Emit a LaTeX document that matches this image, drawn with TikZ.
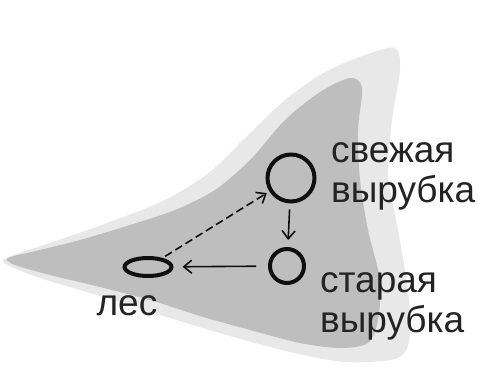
\documentclass[tikz,border=0pt]{standalone}
\usepackage{fontspec}
\setmainfont{Liberation Sans}
\usetikzlibrary{arrows.meta,positioning,shapes.geometric}
\definecolor{cutgray}   {RGB}{190,190,190}
\definecolor{fringegray}{RGB}{232,232,232}
\definecolor{inkblack}  {RGB}{ 15, 15, 15}
\definecolor{textgray}  {RGB}{ 35, 35, 35}

\begin{document}
\begin{tikzpicture}[
    x=1pt, y=-1pt,
    state/.style={draw=inkblack, circle, line width=4pt, inner sep=0pt},
    forestshape/.style={draw=inkblack, ellipse, line width=4pt, inner sep=0pt, minimum width=47pt, minimum height=18pt},
    caption/.style={text=textgray, align=left, inner sep=0pt, font=\fontsize{37}{40}\selectfont},
    arrow/.style={-{Straight Barb[length=8pt,width=13pt]}, line width=1.6pt, draw=inkblack}
]
    \useasboundingbox (0,0) rectangle (478,380);

    % Gray region behind the states (fringe, then solid part)
    \fill[fringegray] plot[smooth cycle, tension=0.5] coordinates {(6,258) (50,243) (110,222) (165,200) (210,172) (245,138) (285,100) (325,72) (365,55) (395,48) (400,70) (392,120) (388,175) (398,230) (408,290) (410,335) (398,358) (345,362) (290,352) (230,336) (170,318) (100,296) (40,278) (8,265)};
    \fill[cutgray] plot[smooth cycle, tension=0.5] coordinates {(8,258) (40,250) (80,240) (130,225) (175,210) (215,190) (250,160) (285,120) (320,92) (350,78) (362,88) (358,130) (360,180) (368,230) (380,280) (378,320) (368,343) (340,348) (300,343) (250,330) (200,316) (150,300) (100,287) (50,275) (15,265)};

    % States
    \node[state, minimum size=47pt] (fresh) at (291,178) {};
    \node[state, minimum size=34pt] (old) at (287,266) {};
    \node[forestshape] (forest) at (148,267) {};

    % Labels
    \node[caption, anchor=west] (freshlabel) at (331,176) {свежая\\вырубка};
    \node[caption, anchor=west] (oldlabel) at (320,306) {старая\\вырубка};
    \node[caption] (forestlabel) [below=17pt of forest, xshift=-21pt] {лес};

    % Connections
    \draw[arrow, shorten <=6pt, shorten >=7pt] (fresh) -- (old);
    \draw[arrow, shorten <=12pt, shorten >=9pt] (old) -- (forest);
    \draw[arrow, dash pattern=on 8pt off 4pt, shorten <=3pt, shorten >=3pt] (forest) -- (fresh);
\end{tikzpicture}
\end{document}
